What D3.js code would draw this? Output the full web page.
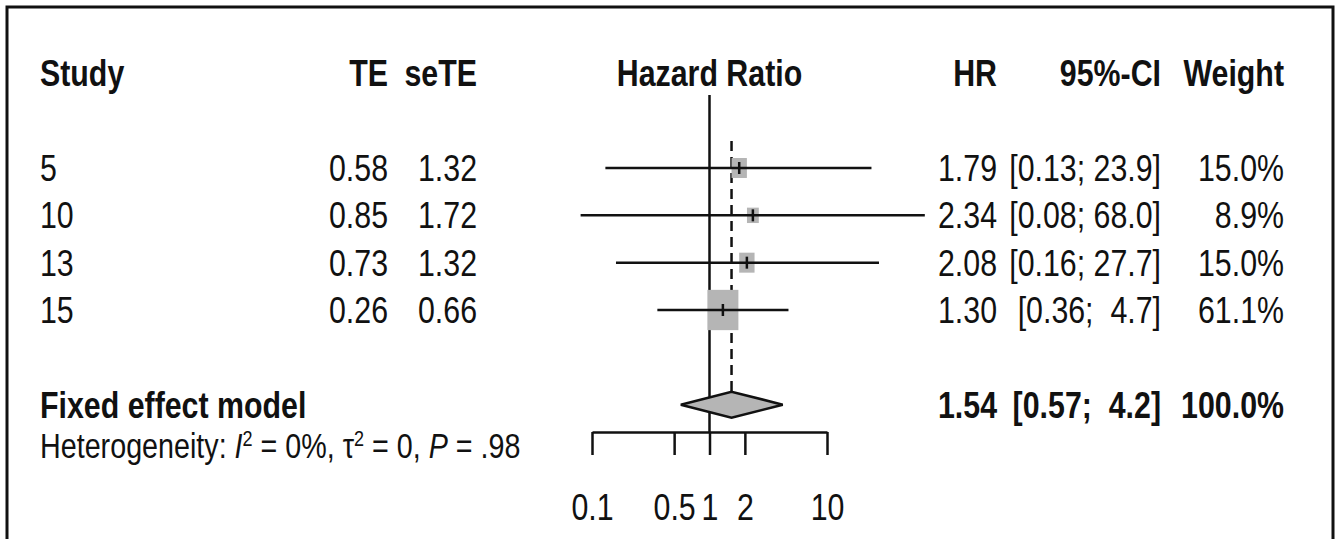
<!DOCTYPE html>
<html>
<head>
<meta charset="utf-8">
<script src="https://cdn.jsdelivr.net/npm/d3@7"></script>
<style>
  body { margin: 0; background: #fff; }
  svg text { font-family: "Liberation Sans", Arial, sans-serif; fill: #111; white-space: pre; }
</style>
</head>
<body>
<svg id="chart"></svg>
<script>
// data
const studies = ["5", "10", "13", "15"];
const teValues = [0.58, 0.85, 0.73, 0.26];
const seValues = [1.32, 1.72, 1.32, 0.66];
const hrValues = [1.79, 2.34, 2.08, 1.30];
const lowerCI = [0.13, 0.08, 0.16, 0.36];
const upperCI = [23.9, 68.0, 27.7, 4.7];
const weights = [15.0, 8.9, 15.0, 61.1];
const fixedHR = 1.54;
const fixedCI = [0.57, 4.2];
const fixedWeight = 100.0;
const tickValues = [0.1, 0.5, 1, 2, 10];
const tickLabels = ["0.1", "0.5", "1", "2", "10"];

const width = 1338;
const height = 539;
const fs = 37;
const narrow = 0.82;   // the original uses a condensed face

const svg = d3.select('#chart')
  .attr('width', width)
  .attr('height', height);

// frame
svg.append('rect')
  .attr('x', 7).attr('y', 7)
  .attr('width', 1326).attr('height', 560)
  .attr('fill', 'none')
  .attr('stroke', '#111')
  .attr('stroke-width', 3);

// scales
const x = d3.scaleLog()
  .domain([0.1, 10])
  .range([592, 827]);

const y = d3.scaleLinear()
  .domain([0, 3])
  .range([168, 310]);

const boxSize = d3.scaleSqrt()
  .domain([0, d3.max(weights)])
  .range([0, 31]);

const f2 = d3.format('.2f');
const f1 = d3.format('.1f');
const ciText = (l, u) => `[${f2(l)}; ${d3.format('4.1f')(u)}]`;

const rows = studies.map((s, i) => ({
  study: s, te: teValues[i], se: seValues[i], hr: hrValues[i],
  lo: lowerCI[i], hi: upperCI[i], w: weights[i], i: i
}));

// column positions
const colStudy = 40;
const colTE = 388;
const colSE = 477;
const colHR = 997;
const colCI = 1161;
const colW = 1284;
const baseOff = 13;

const place = (xx, yy) => `translate(${xx},${yy}) scale(${narrow},1)`;

const label = (parent, xx, yy, str, anchor) => parent.append('text')
  .attr('transform', place(xx, yy))
  .attr('text-anchor', anchor || 'start')
  .style('font-size', fs + 'px')
  .text(str);

// header
const header = svg.append('g').attr('font-weight', 'bold');
const hy = y(-2) + baseOff;
label(header, colStudy, hy, 'Study');
label(header, colTE, hy, 'TE', 'end');
label(header, colSE, hy, 'seTE', 'end');
label(header, x(1), hy, 'Hazard Ratio', 'middle');
label(header, colHR, hy, 'HR', 'end');
label(header, colCI, hy, '95%-CI', 'end');
label(header, colW, hy, 'Weight', 'end');

// reference lines
svg.append('line')
  .attr('x1', x(1)).attr('x2', x(1))
  .attr('y1', 95).attr('y2', 432)
  .attr('stroke', '#111').attr('stroke-width', 2.5);

svg.append('line')
  .attr('x1', x(fixedHR)).attr('x2', x(fixedHR))
  .attr('y1', y(0) - 27).attr('y2', y(5) - 13)
  .attr('stroke', '#111').attr('stroke-width', 2.5)
  .attr('stroke-dasharray', '10,6');

// study rows
const g = svg.selectAll('.study')
  .data(rows)
  .enter()
  .append('g')
  .attr('class', 'study');

g.append('rect')
  .attr('x', (d) => x(d.hr) - boxSize(d.w) / 2)
  .attr('y', (d) => y(d.i) - boxSize(d.w) * 1.3 / 2)
  .attr('width', (d) => boxSize(d.w))
  .attr('height', (d) => boxSize(d.w) * 1.3)
  .attr('fill', '#b5b5b5');

g.append('line')
  .attr('x1', (d) => x(d.lo))
  .attr('x2', (d) => x(d.hi))
  .attr('y1', (d) => y(d.i))
  .attr('y2', (d) => y(d.i))
  .attr('stroke', '#111').attr('stroke-width', 2.5);

g.append('line')
  .attr('x1', (d) => x(d.hr))
  .attr('x2', (d) => x(d.hr))
  .attr('y1', (d) => y(d.i) - 6)
  .attr('y2', (d) => y(d.i) + 6)
  .attr('stroke', '#111').attr('stroke-width', 2.5);

const addText = (sel, xx, txt, anchor) => sel.append('text')
  .attr('transform', (d) => place(xx, y(d.i) + baseOff))
  .attr('text-anchor', anchor)
  .style('font-size', fs + 'px')
  .text(txt);

addText(g, colStudy, (d) => d.study, 'start');
addText(g, colTE, (d) => f2(d.te), 'end');
addText(g, colSE, (d) => f2(d.se), 'end');
addText(g, colHR, (d) => f2(d.hr), 'end');
addText(g, colCI, (d) => ciText(d.lo, d.hi), 'end');
addText(g, colW, (d) => f1(d.w) + '%', 'end');

// fixed effect summary
const sy = y(5);
svg.append('path')
  .attr('d', `M${x(fixedCI[0])},${sy} L${x(fixedHR)},${sy - 13} L${x(fixedCI[1])},${sy} L${x(fixedHR)},${sy + 13} Z`)
  .attr('fill', '#b5b5b5')
  .attr('stroke', '#111')
  .attr('stroke-width', 2.5);

const summary = svg.append('g').attr('font-weight', 'bold');
label(summary, colStudy, sy + baseOff, 'Fixed effect model');
label(summary, colHR, sy + baseOff, f2(fixedHR), 'end');
label(summary, colCI, sy + baseOff, ciText(fixedCI[0], fixedCI[1]), 'end');
label(summary, colW, sy + baseOff, f1(fixedWeight) + '%', 'end');

// heterogeneity
const het = label(svg, colStudy, 458, '', 'start').style('font-size', '35px');
het.append('tspan').text('Heterogeneity: ');
het.append('tspan').attr('font-style', 'italic').text('I');
het.append('tspan').attr('dy', -12).style('font-size', '22px').text('2');
het.append('tspan').attr('dy', 12).text(' = 0%, ');
het.append('tspan').text('τ');
het.append('tspan').attr('dy', -12).style('font-size', '22px').text('2');
het.append('tspan').attr('dy', 12).text(' = 0, ');
het.append('tspan').attr('font-style', 'italic').text('P');
het.append('tspan').text(' = .98');

// axis
const xAxis = d3.axisBottom(x)
  .tickValues(tickValues)
  .tickFormat((d, i) => tickLabels[i])
  .tickSize(23)
  .tickSizeOuter(0);

const ax = svg.append('g')
  .attr('transform', 'translate(0, 432)')
  .call(xAxis);

ax.select('.domain').attr('stroke', '#111').attr('stroke-width', 2.5);
ax.selectAll('.tick line').attr('stroke', '#111').attr('stroke-width', 2.5);
ax.selectAll('.tick text')
  .attr('y', 0)
  .attr('dy', 0)
  .attr('transform', place(0, 88))
  .attr('fill', '#111')
  .style('font-size', fs + 'px')
  .style('font-family', '"Liberation Sans", Arial, sans-serif');
</script>
</body>
</html>
